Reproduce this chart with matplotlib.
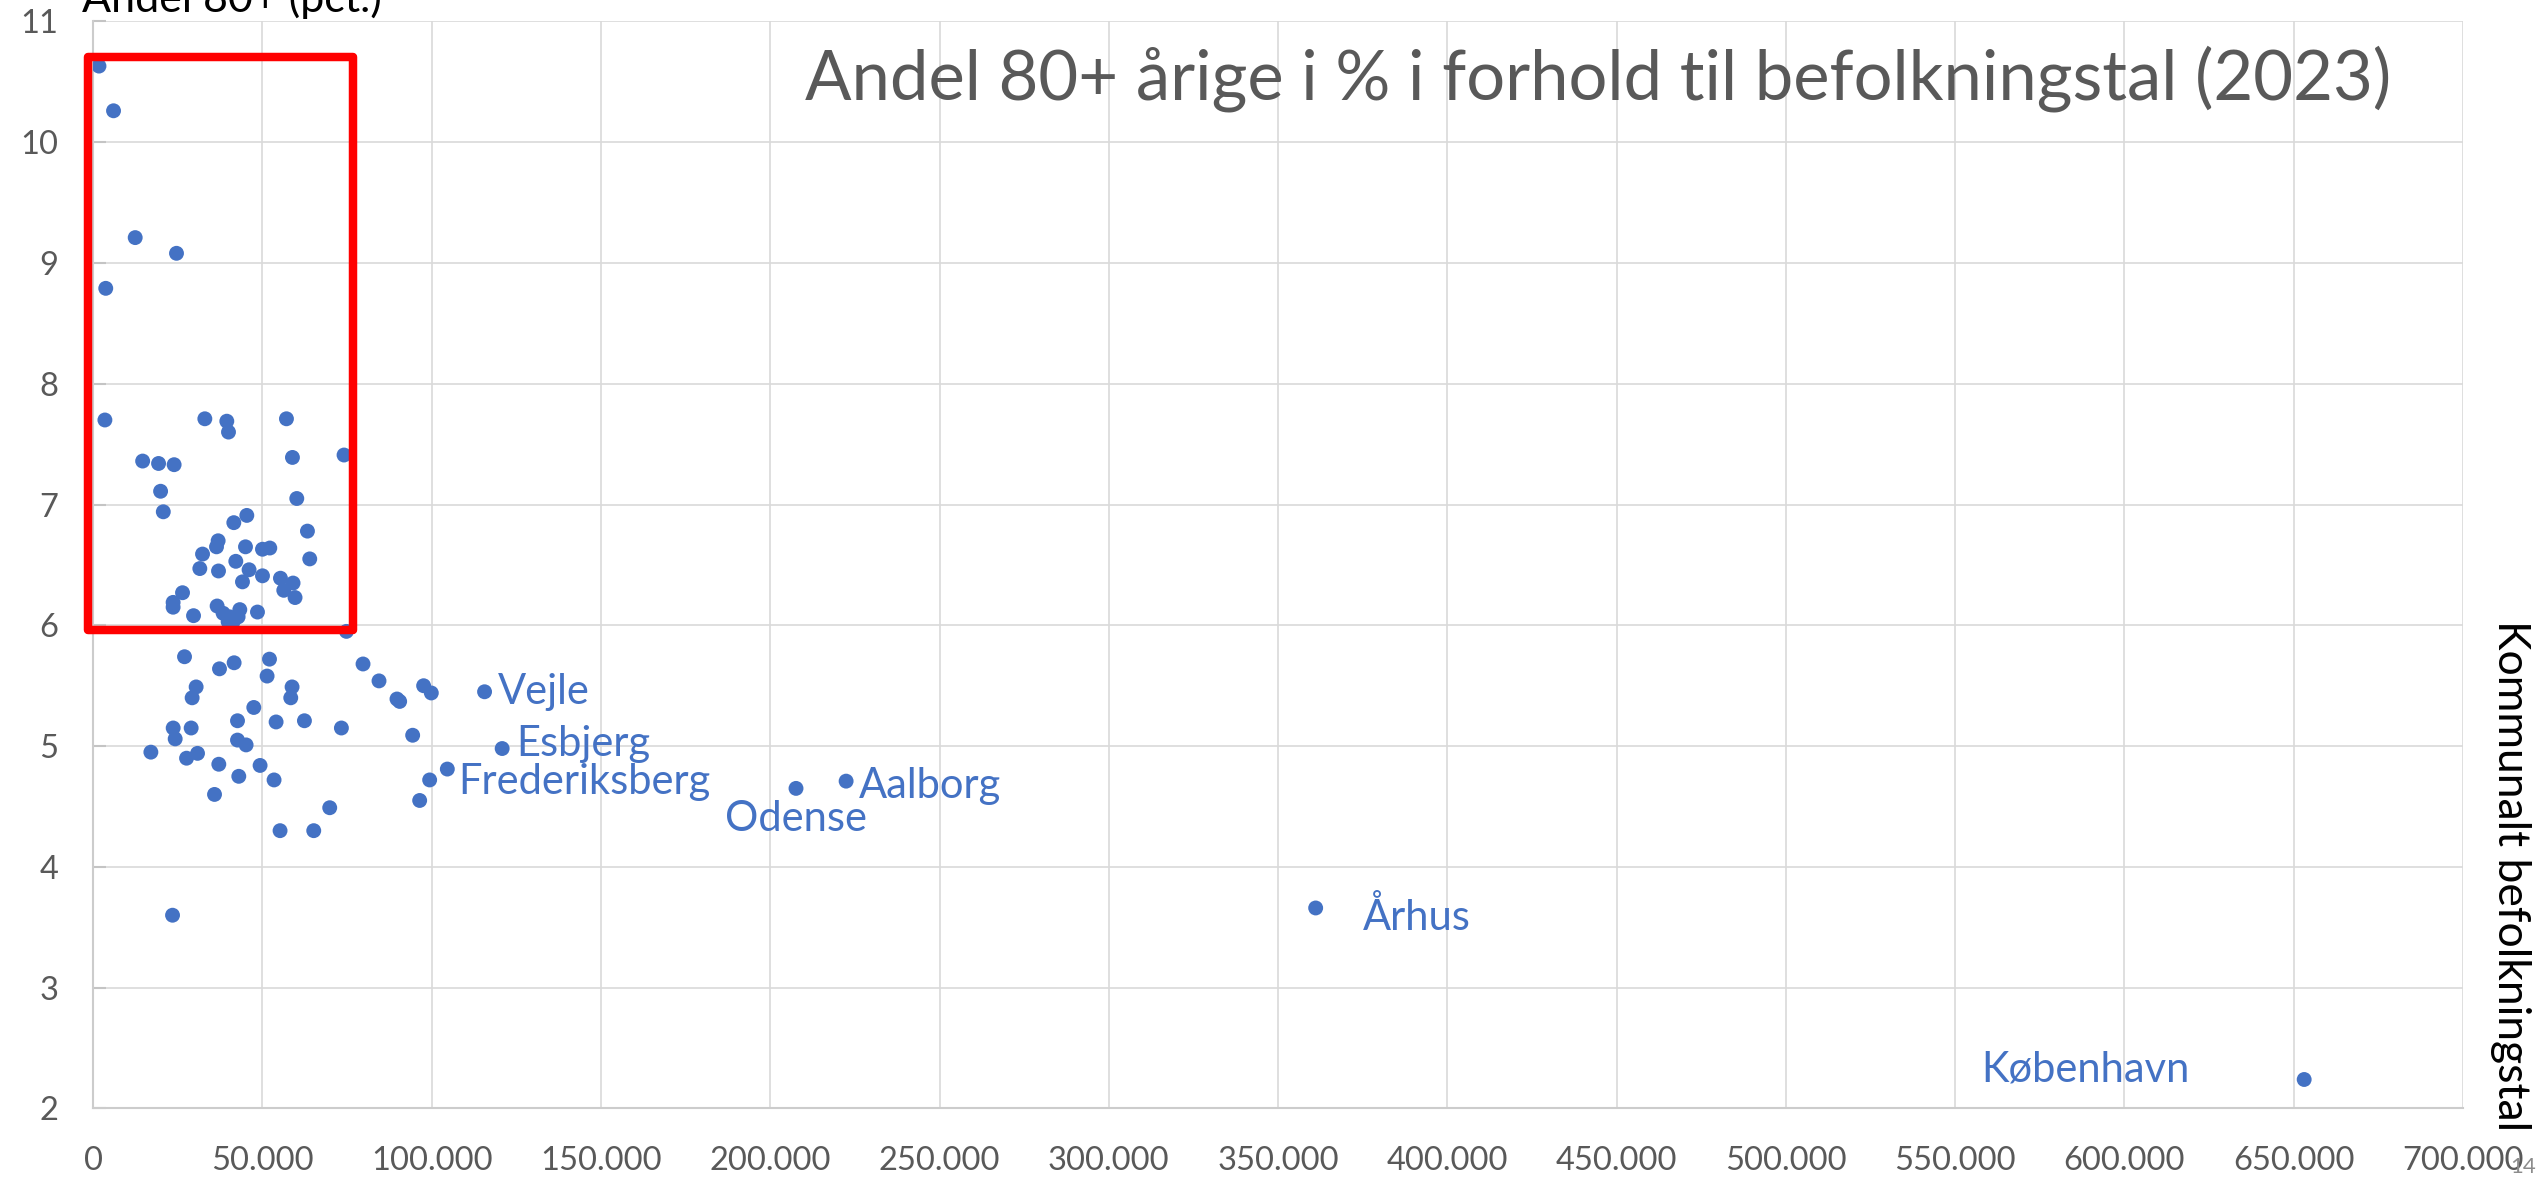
import matplotlib
matplotlib.use("Agg")
import matplotlib.pyplot as plt
from matplotlib.patches import Rectangle
from matplotlib.ticker import FuncFormatter, MultipleLocator

plt.rcParams['font.family'] = ['Lato', 'DejaVu Sans']

# kommuner uden navn: befolkningstal og andel 80+ (pct.)
befolkning = [
    1700, 6000, 12400, 24600, 3700, 3450, 14600, 19300, 23900, 19900, 20700, 23600, 23600,
    32970, 39460, 39960, 57080, 58850, 74090, 60130, 45370, 41530, 63280, 36900, 36420,
    44980, 50000, 52160, 32290, 63960, 42120, 31490, 37010, 46040, 50000, 44090, 55310,
    59030, 56290, 59620, 26380, 29630, 36600, 38370, 40350, 41330, 43300, 42800, 39850,
    48520, 74790,
    26970, 37300, 41620, 52070, 51360, 30400, 29220, 58740, 58350, 47430, 42620, 54020,
    62390, 73310, 23620, 28930, 24210, 42620, 45160, 17030, 27570, 30810, 37100, 49290,
    43000, 53420, 35830, 69860, 55190, 65140, 23430,
    79700, 84420, 89730, 90520, 97600, 99870, 94360, 99380, 96430,
]
andel = [
    10.63, 10.26, 9.21, 9.08, 8.79, 7.70, 7.36, 7.34, 7.33, 7.11, 6.94, 6.19, 6.15,
    7.71, 7.69, 7.60, 7.71, 7.39, 7.41, 7.05, 6.91, 6.85, 6.78, 6.70, 6.65,
    6.65, 6.63, 6.64, 6.59, 6.55, 6.53, 6.47, 6.45, 6.46, 6.41, 6.36, 6.39,
    6.35, 6.29, 6.23, 6.27, 6.08, 6.16, 6.10, 6.07, 6.03, 6.13, 6.07, 6.03,
    6.11, 5.95,
    5.74, 5.64, 5.69, 5.72, 5.58, 5.49, 5.40, 5.49, 5.40, 5.32, 5.21, 5.20,
    5.21, 5.15, 5.15, 5.15, 5.06, 5.05, 5.01, 4.95, 4.90, 4.94, 4.85, 4.84,
    4.75, 4.72, 4.60, 4.49, 4.30, 4.30, 3.60,
    5.68, 5.54, 5.39, 5.37, 5.50, 5.44, 5.09, 4.72, 4.55,
]

# navngivne kommuner
byer = ["Vejle", "Esbjerg", "Frederiksberg", "Odense", "Aalborg", "Århus", "København"]
by_befolkning = [115600, 120800, 104600, 207600, 222400, 361100, 653100]
by_andel = [5.45, 4.98, 4.81, 4.65, 4.71, 3.66, 2.24]

x_ticks = list(range(0, 700001, 50000))
y_ticks = list(range(2, 12))

blue = '#4472C4'
grey = '#595959'
grid_col = '#D9D9D9'

fig = plt.figure(figsize=(25.47, 11.82), dpi=100)
ax = fig.add_axes([0.0366, 0.0622, 0.9304, 0.9197])

ax.scatter(befolkning + by_befolkning, andel + by_andel, s=115, color=blue,
           edgecolors='none', zorder=3)

# label-placering i pixels relativt til punktet
label_pos = {
    "Vejle": (13, -12, 'left'),
    "Esbjerg": (14, -7, 'left'),
    "Frederiksberg": (11, -25, 'left'),
    "Odense": (0, -43, 'center'),
    "Aalborg": (13, -17, 'left'),
    "Århus": (47, -22, 'left'),
    "København": (-115, -2, 'right'),
}
for name, bx, by in zip(byer, by_befolkning, by_andel):
    dx, dy, ha = label_pos[name]
    ax.annotate(name, xy=(bx, by), xytext=(dx, dy), textcoords='offset pixels',
                ha=ha, va='baseline', fontsize=30, color=blue, zorder=4)

ax.set_xlim(0, 700000)
ax.set_ylim(2, 11)
ax.xaxis.set_major_locator(MultipleLocator(50000))
ax.yaxis.set_major_locator(MultipleLocator(1))
ax.set_xticks(x_ticks)
ax.set_yticks(y_ticks)
ax.xaxis.set_major_formatter(FuncFormatter(lambda v, p: f"{int(v):,}".replace(",", ".")))
ax.grid(True, color=grid_col, linewidth=1.2, zorder=0)
ax.set_axisbelow(True)
for side in ['top', 'right']:
    ax.spines[side].set_visible(False)
for side in ['left', 'bottom']:
    ax.spines[side].set_color('#CCCCCC')
    ax.spines[side].set_linewidth(1.5)
ax.tick_params(axis='x', length=0, pad=27, labelsize=23.5, labelcolor=grey)
ax.tick_params(axis='y', direction='in', length=9, width=1.5, color='#C4C4C4',
               pad=25, labelsize=23.5, labelcolor=grey)

# rød markering af de små kommuner
rect_x = (-1400, 76700)
rect_y = (5.964, 10.708)
ax.add_patch(Rectangle((rect_x[0], rect_y[0]), rect_x[1] - rect_x[0], rect_y[1] - rect_y[0],
                       fill=False, edgecolor='#FF0000', linewidth=6.1, joinstyle='round',
                       clip_on=False, zorder=5))

fig.text(0.316, 0.9154, "Andel 80+ årige i % i forhold til befolkningstal (2023)",
         fontsize=49.5, color=grey, ha='left', va='baseline')
fig.text(0.0322, 0.9901, "Andel 80+ (pct.)", fontsize=31, color='black',
         ha='left', va='baseline')
fig.text(0.9855, 0.2593, "Kommunalt befolkningstal", fontsize=32, color='black',
         rotation=270, ha='center', va='center')
fig.text(0.9905, 0.004, "14", fontsize=16, color='#8C8C8C', ha='center', va='bottom')

fig.savefig("out.png", dpi=100)
